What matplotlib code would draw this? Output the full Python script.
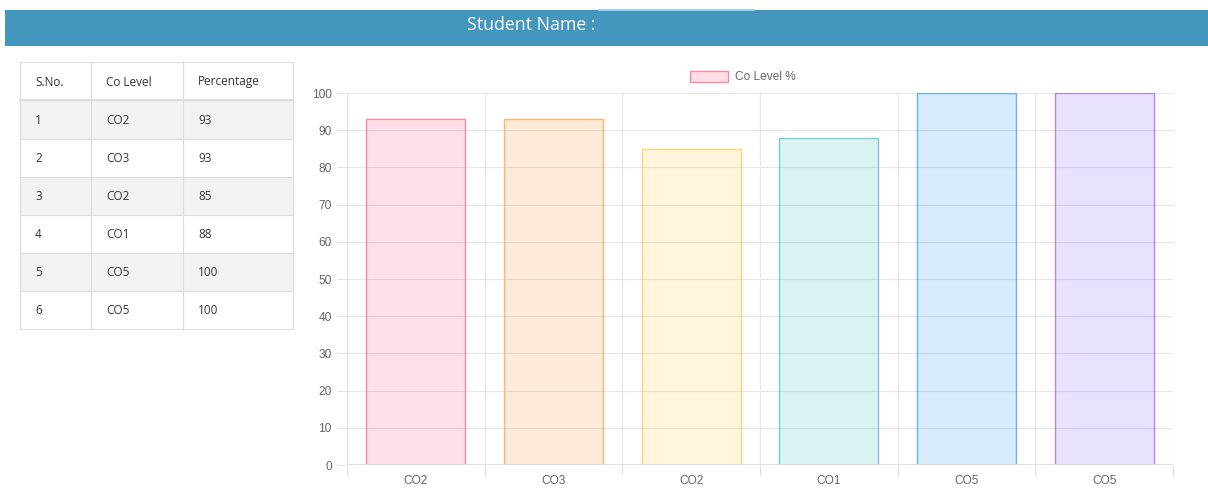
"""
Student CO level report: header, table and bar chart
"""
import matplotlib.pyplot as plt
from matplotlib.patches import Rectangle

W, H = 1208, 488

sno = [1, 2, 3, 4, 5, 6]
co_levels = ["CO2", "CO3", "CO2", "CO1", "CO5", "CO5"]
percentages = [93, 93, 85, 88, 100, 100]
bar_rgb = [(255, 99, 132), (255, 159, 64), (255, 205, 86),
           (75, 192, 192), (54, 162, 235), (153, 102, 255)]
y_ticks = list(range(0, 101, 10))

plt.rcParams['font.family'] = ['Open Sans', 'DejaVu Sans']

fig = plt.figure(figsize=(W / 100, H / 100), dpi=100)

# page layer in pixel coordinates
page = fig.add_axes([0, 0, 1, 1])
page.set_xlim(0, W)
page.set_ylim(H, 0)
page.axis('off')

# header bar
page.add_patch(Rectangle((5, 10), W - 5, 36, color='#4396bd', lw=0))
page.add_patch(Rectangle((598, 9), 157, 1.5, color='#a9cde0', lw=0))
page.text(531, 25, "Student Name :", color='white', fontsize=12.8,
          ha='center', va='center', fontweight='medium')

# table
col_x = [20, 91, 183, 293]
row_y = [62, 100, 139, 177, 215, 253, 291, 329]
header = ["S.No.", "Co Level", "Percentage"]
rows = [[str(s), c, str(p)] for s, c, p in zip(sno, co_levels, percentages)]
for i in range(len(rows)):
    if i % 2 == 0:
        page.add_patch(Rectangle((col_x[0], row_y[i + 1]), col_x[-1] - col_x[0],
                                 row_y[i + 2] - row_y[i + 1], color='#f2f2f2', lw=0))
for yy in row_y:
    lw = 1.6 if yy == row_y[1] else 0.8
    page.plot([col_x[0], col_x[-1]], [yy, yy], color='#dddddd', lw=lw)
for xx in col_x:
    page.plot([xx, xx], [row_y[0], row_y[-1]], color='#dddddd', lw=0.8)
for j, txt in enumerate(header):
    page.text(col_x[j] + 15, (row_y[0] + row_y[1]) / 2 + 1, txt, fontsize=8.5,
              color='#333333', va='center')
for i, r in enumerate(rows):
    for j, txt in enumerate(r):
        page.text(col_x[j] + 15, (row_y[i + 1] + row_y[i + 2]) / 2 + 1, txt,
                  fontsize=8.5, color='#333333', va='center')

# legend
page.add_patch(Rectangle((690, 71), 38, 11, facecolor=(1, 99 / 255, 132 / 255, 0.2),
                         edgecolor=(1, 99 / 255, 132 / 255, 0.75), lw=1))
page.text(735, 76.5, "Co Level %", fontsize=8.6, color='#666666', va='center',
          family=['Liberation Sans', 'DejaVu Sans'])

# chart
left, right, top, bottom = 347, 1173, 93, 465
ax = fig.add_axes([left / W, 1 - bottom / H, (right - left) / W, (bottom - top) / H])
x = list(range(len(percentages)))
faces = [(r / 255, g / 255, b / 255, 0.2) for r, g, b in bar_rgb]
edges = [(r / 255, g / 255, b / 255, 0.75) for r, g, b in bar_rgb]
ax.bar(x, percentages, width=0.72, color=faces, edgecolor=edges, linewidth=1, zorder=3)
ax.set_xlim(-0.5, len(x) - 0.5)
ax.set_ylim(0, 100)
ax.set_yticks(y_ticks)
ax.set_xticks(x)
ax.set_xticklabels(co_levels)
ax.set_xticks([i - 0.5 for i in range(len(x) + 1)], minor=True)
for s in ax.spines.values():
    s.set_visible(False)
ax.grid(True, axis='y', color='#e6e6e6', lw=0.8, zorder=0)
ax.grid(True, axis='x', which='minor', color='#e6e6e6', lw=0.8, zorder=0)
ax.axhline(0, color='#d9d9d9', lw=1.2, zorder=4)
ax.axvline(-0.5, color='#e0e0e0', lw=0.8, zorder=4)
ax.tick_params(axis='x', which='major', length=0, pad=7, labelsize=8.6, labelcolor='#666666')
ax.tick_params(axis='x', which='minor', length=7, color='#e0e0e0', width=0.8)
ax.tick_params(axis='y', length=7, color='#e0e0e0', width=0.8, pad=4,
               labelsize=8.6, labelcolor='#666666')
for lab in ax.get_xticklabels() + ax.get_yticklabels():
    lab.set_family(['Liberation Sans', 'DejaVu Sans'])

fig.savefig("out.png", dpi=100)
